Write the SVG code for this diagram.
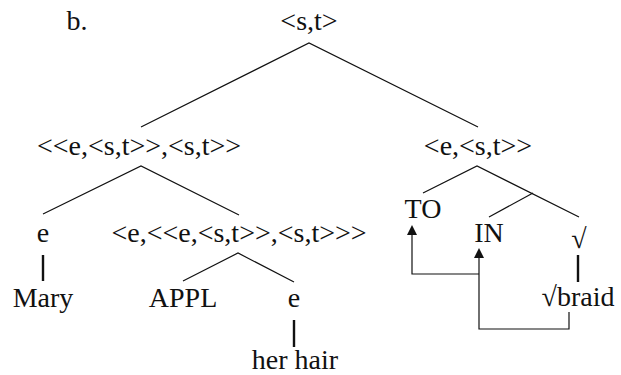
<svg xmlns="http://www.w3.org/2000/svg" width="621" height="375" viewBox="0 0 621 375">
<style>
.e{stroke:#111;stroke-width:1.2;fill:none}
.v{stroke:#111;stroke-width:2.4;fill:none}
.a{fill:#111;stroke:none}
</style>
<g text-anchor="middle" fill="#111">
<text x="77" y="30" font-family="Liberation Serif" font-size="28">b.</text>
<g id="n-root"><text x="309" y="30" font-family="Liberation Serif" font-size="28">&lt;s,t&gt;</text></g>
<g id="n-left"><text x="139" y="155" font-family="Liberation Serif" font-size="28">&lt;&lt;e,&lt;s,t&gt;&gt;,&lt;s,t&gt;&gt;</text></g>
<g id="n-right"><text x="478" y="155" font-family="Liberation Serif" font-size="28">&lt;e,&lt;s,t&gt;&gt;</text></g>
<g id="n-e1"><text x="43" y="242" font-family="Liberation Serif" font-size="28">e</text></g>
<g id="n-mid"><text x="239" y="242" font-family="Liberation Serif" font-size="28">&lt;e,&lt;&lt;e,&lt;s,t&gt;&gt;,&lt;s,t&gt;&gt;&gt;</text></g>
<g id="n-mary"><text x="43" y="307" font-family="Liberation Serif" font-size="28">Mary</text></g>
<g id="n-appl"><text x="183" y="307" font-family="Liberation Serif" font-size="28">APPL</text></g>
<g id="n-e2"><text x="294" y="307" font-family="Liberation Serif" font-size="28">e</text></g>
<g id="n-hair"><text x="295" y="369" font-family="Liberation Serif" font-size="28">her hair</text></g>
<g id="n-to"><text x="423" y="218" font-family="Liberation Serif" font-size="28">TO</text></g>
<g id="n-in"><text x="489" y="242" font-family="Liberation Serif" font-size="28">IN</text></g>
<g id="n-root2"><text x="579" y="248" font-family="Liberation Serif" font-size="28">√</text></g>
<g id="n-braid"><text x="578" y="306" font-family="Liberation Serif" font-size="28">√braid</text></g>
</g>
<g id="connectors">
<path class="e" d="M141,127 L309,43 L478,127"/>
<path class="e" d="M43,214 L141,166 L239,215"/>
<path class="e" d="M183,281 L238,253 L294,282"/>
<path class="e" d="M423,193 L477,166 L579,217"/>
<path class="e" d="M489,217 L533,193"/>
<path class="v" d="M43,255 V281"/>
<path class="v" d="M294,320 V347"/>
<path class="v" d="M578,255 V282"/>
<path class="e" d="M479,274 H412 V234"/>
<path class="a" d="M412,225 L407,235 L417,235 Z"/>
<path class="e" d="M569,312 V329 H479 V257"/>
<path class="a" d="M479,248 L474,258 L484,258 Z"/>
</g>
</svg>
